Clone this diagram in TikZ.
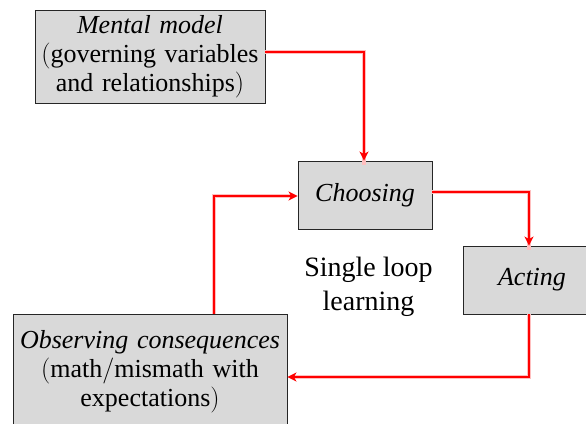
\documentclass[tikz,border=0pt]{standalone}
\usepackage{fontspec}
\newfontfamily\tnr{Liberation Serif}
\newcommand{\myLP}{{\rmfamily(}}
\newcommand{\myRP}{{\rmfamily)}}
\newcommand{\mySL}{{\rmfamily/}}
\usetikzlibrary{arrows.meta}
\begin{document}
\begin{tikzpicture}[x=1pt,y=-1pt,
  box/.style={draw=black!85,line width=0.9pt,fill=black!15,inner sep=0pt,align=center,
    font=\tnr\fontsize{26}{29}\selectfont},
  glow/.style={draw=red!25,line width=4.5pt,line join=miter},
  link/.style={draw=red,line width=2pt,line join=miter,
    -{Stealth[length=9pt,width=9pt,inset=2.5pt]}}]
\useasboundingbox[fill=white] (0,0) rectangle (586,423);
\node[box,minimum width=230pt,minimum height=93pt,text width=226pt] (mm) at (150,56.5)
  {\textit{Mental model}\\\myLP governing variables\\and relationships\myRP};
\node[box,minimum width=134pt,minimum height=68pt] (ch) at (365,195) {\textit{Choosing}};
\node[box,minimum width=138pt,minimum height=68pt] (ac) at (532,280) {\textit{Acting}};
\node[box,minimum width=274pt,minimum height=116pt,text width=272pt] (obs) at (150,372)
  {\textit{Observing consequences}\\\myLP math\mySL mismath with\\expectations\myRP};
\node[inner sep=0pt,font=\tnr\fontsize{26}{31.5}\selectfont] (slnode) at (368.5,287)
  {\scalebox{1.077}{\begin{tabular}{@{}c@{}}Single loop\\learning\end{tabular}}};
% glow underlays
\draw[glow] ([yshift=4.5pt]mm.east) -| ([xshift=-1pt,yshift=-4pt]ch.north);
\draw[glow] ([yshift=3pt]ch.east) -| ([xshift=-3pt,yshift=-4pt]ac.north);
\draw[glow] ([xshift=-3pt]ac.south) |- ([xshift=4pt,yshift=-5pt]obs.east);
\draw[glow] ([xshift=64pt]obs.north) |- ([xshift=-4pt,yshift=-1pt]ch.west);
% connectors
\draw[link] ([yshift=4.5pt]mm.east) -| ([xshift=-1pt]ch.north);
\draw[link] ([yshift=3pt]ch.east) -| ([xshift=-3pt]ac.north);
\draw[link] ([xshift=-3pt]ac.south) |- ([yshift=-5pt]obs.east);
\draw[link] ([xshift=64pt]obs.north) |- ([yshift=-1pt]ch.west);
\end{tikzpicture}
\end{document}
